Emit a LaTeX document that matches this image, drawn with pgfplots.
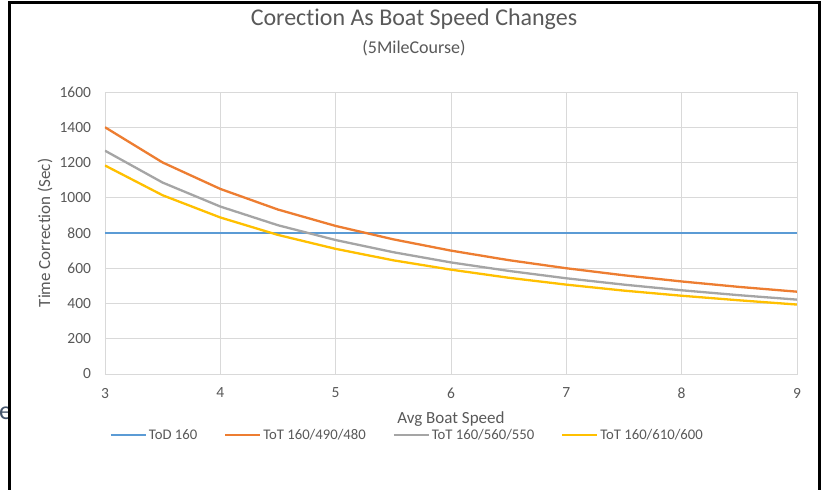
\documentclass[border=0pt]{standalone}
\usepackage{fontspec}
\setmainfont{Carlito}[Ligatures={NoCommon}]
\usepackage{pgfplots}
\pgfplotsset{compat=1.18}
\definecolor{txt}{HTML}{595959}
\definecolor{gridc}{HTML}{D9D9D9}
\definecolor{cblue}{HTML}{5B9BD5}
\definecolor{corange}{HTML}{ED7D31}
\definecolor{cgray}{HTML}{A5A5A5}
\definecolor{cyellow}{HTML}{FFC000}
\definecolor{ecol}{HTML}{44546A}
\begin{document}
\begin{tikzpicture}[x=1pt,y=1pt]
\path[use as bounding box] (0,0) rectangle (828,490);
\fill[white] (0,0) rectangle (828,490);
\node[anchor=west, inner sep=0, text=ecol, font=\fontsize{26}{28}\selectfont] at (-1,77) {e};
\draw[line width=2.6pt] (9.5,-2) -- (9.5,487.5) -- (819.5,487.5) -- (819.5,-2);
\node[text=txt, font=\fontsize{24}{28}\selectfont] at (414,471) {Corection As Boat Speed Changes};
\node[text=txt, font=\fontsize{18}{21}\selectfont] at (414,442) {(5MileCourse)};
\begin{axis}[
  at={(105pt,116pt)}, anchor=south west,
  scale only axis, width=692pt, height=282pt,
  xmin=3, xmax=9, ymin=0, ymax=1600,
  xtick={3,4,5,6,7,8,9}, ytick={0,200,...,1600},
  grid=major, major grid style={draw=gridc, line width=0.8pt},
  axis line style={draw=gridc, line width=0.8pt},
  major tick length=0pt,
  tick label style={text=txt, font=\fontsize{15.5}{18}\selectfont},
  /pgf/number format/assume math mode=true,
  /pgf/number format/1000 sep={},
  yticklabel style={xshift=-10.5pt},
  xticklabel style={yshift=-10.5pt},
  xlabel={Avg Boat Speed}, ylabel={Time Correction (Sec)},
  label style={text=txt, font=\fontsize{17}{20}\selectfont},
  xlabel style={at={(axis description cs:0.5,-0.161)}, anchor=center},
  ylabel style={at={(axis description cs:-0.0867,0.5)}, anchor=center},
  legend columns=4,
  legend style={draw=none, fill=none, at={(axis description cs:0.437,-0.218)}, anchor=center,
    font=\fontsize{14.7}{17}\selectfont, text=txt,
    /tikz/every even column/.append style={column sep=25pt}},
  legend image code/.code={\draw[#1, line width=2pt] (0pt,0pt) -- (35pt,0pt);},
  every axis plot/.append style={line width=2.3pt, no markers},
]
\addplot[cblue] coordinates {(3,800) (9,800)};
\addlegendentry{ToD 160}
\addplot[corange] coordinates {(3,1400) (3.5,1200) (4,1050) (4.5,933) (5,840) (5.5,764) (6,700) (6.5,646) (7,600) (7.5,560) (8,525) (8.5,494) (9,467)};
\addlegendentry{ToT 160/490/480}
\addplot[cgray] coordinates {(3,1267) (3.5,1086) (4,950) (4.5,844) (5,760) (5.5,691) (6,633) (6.5,585) (7,543) (7.5,507) (8,475) (8.5,447) (9,422)};
\addlegendentry{ToT 160/560/550}
\addplot[cyellow] coordinates {(3,1183) (3.5,1014) (4,888) (4.5,789) (5,710) (5.5,645) (6,592) (6.5,546) (7,507) (7.5,473) (8,444) (8.5,418) (9,394)};
\addlegendentry{ToT 160/610/600}
\end{axis}
\end{tikzpicture}
\end{document}
